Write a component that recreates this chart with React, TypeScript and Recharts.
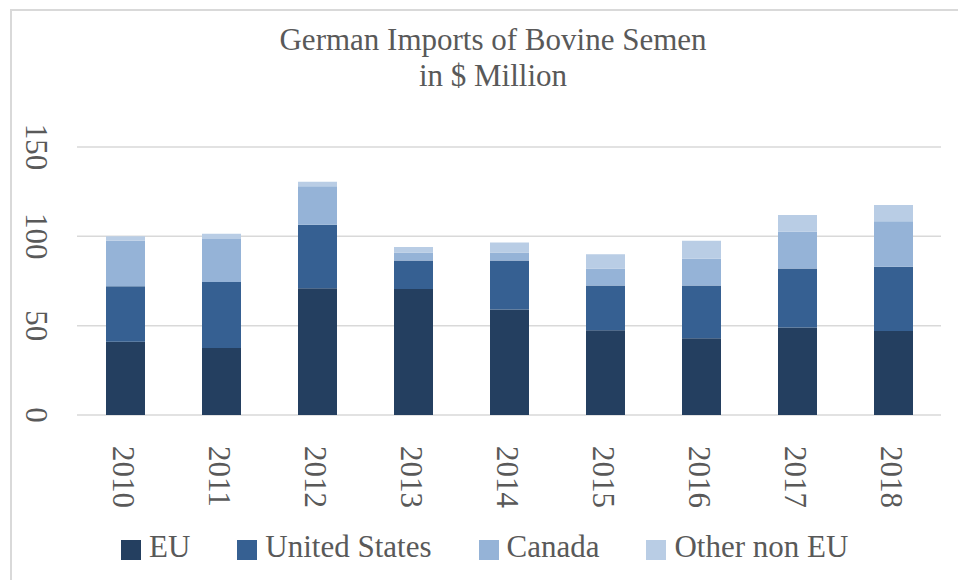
import React from 'react'
import { BarChart, Bar, XAxis, YAxis, CartesianGrid, Legend } from 'recharts'

const years = ['2010', '2011', '2012', '2013', '2014', '2015', '2016', '2017', '2018']
const eu = [41, 37.5, 71, 70.5, 59, 47.5, 43, 49, 47]
const unitedStates = [31, 37, 35.5, 16, 27.5, 25, 29.5, 33, 36]
const canada = [25.5, 24, 21.5, 4.5, 4.5, 9.5, 15, 20.5, 25.5]
const otherNonEu = [2.5, 3, 2.5, 3, 5.5, 8, 10, 9.5, 9]
const yTicks = [0, 50, 100, 150]

const data = years.map((year, i) => ({
  year,
  eu: eu[i],
  us: unitedStates[i],
  canada: canada[i],
  other: otherNonEu[i],
}))

const FONT = '"Liberation Serif", "Times New Roman", serif'
const TEXT = '#595959'
const LEGEND_H = 40
const XAXIS_H = 30

const series = [
  { key: 'eu', name: 'EU', color: '#243F60' },
  { key: 'us', name: 'United States', color: '#366092' },
  { key: 'canada', name: 'Canada', color: '#95B3D7' },
  { key: 'other', name: 'Other non EU', color: '#B9CDE5' },
]

const YTick = (props: any) => {
  const { y, payload } = props
  const x = 36
  return (
    <text
      x={x}
      y={y}
      transform={`rotate(90, ${x}, ${y})`}
      textAnchor="middle"
      dominantBaseline="central"
      fill={TEXT}
      fontSize={31}
      fontFamily={FONT}
    >
      {payload.value}
    </text>
  )
}

const XTick = (props: any) => {
  const { x, payload } = props
  const cx = x - 2
  const y = 446
  return (
    <text
      x={cx}
      y={y}
      transform={`rotate(90, ${cx}, ${y})`}
      textAnchor="start"
      dominantBaseline="central"
      fill={TEXT}
      fontSize={31}
      fontFamily={FONT}
    >
      {payload.value}
    </text>
  )
}

const renderLegend = () => (
  <div
    style={{
      display: 'flex',
      alignItems: 'center',
      height: LEGEND_H,
      fontFamily: FONT,
      fontSize: 31,
      color: TEXT,
    }}
  >
    {series.map((s) => (
      <div key={s.key} style={{ display: 'flex', alignItems: 'center', marginRight: 47 }}>
        <span style={{ width: 20, height: 20, background: s.color, marginRight: 8, marginTop: 5 }} />
        <span>{s.name}</span>
      </div>
    ))}
  </div>
)

export default function App() {
  return (
    <div style={{ position: 'absolute', left: 0, top: 0, width: 958, height: 580, background: '#fff' }}>
      <div
        style={{
          position: 'absolute',
          left: 10,
          top: 9,
          right: 0,
          bottom: 0,
          borderTop: '2px solid #d9d9d9',
          borderLeft: '2px solid #d9d9d9',
        }}
      />
      <div
        style={{
          position: 'absolute',
          left: 0,
          width: 986,
          top: 22,
          textAlign: 'center',
          fontFamily: FONT,
          fontSize: 31,
          lineHeight: '36px',
          color: TEXT,
        }}
      >
        German Imports of Bovine Semen
        <br />
        in $ Million
      </div>
      <div style={{ position: 'absolute', left: 0, top: 0 }}>
        <BarChart
          width={958}
          height={580}
          data={data}
          margin={{ top: 147, right: 17, bottom: 165 - XAXIS_H - LEGEND_H, left: 0 }}
          barSize={39}
        >
          <CartesianGrid vertical={false} stroke="#d9d9d9" strokeWidth={1.5} />
          <XAxis
            dataKey="year"
            height={XAXIS_H}
            axisLine={false}
            tickLine={false}
            tick={<XTick />}
            interval={0}
          />
          <YAxis
            width={77}
            domain={[0, 150]}
            ticks={yTicks}
            axisLine={false}
            tickLine={false}
            tick={<YTick />}
          />
          {series.map((s) => (
            <Bar
              key={s.key}
              dataKey={s.key}
              name={s.name}
              stackId="a"
              fill={s.color}
              isAnimationActive={false}
            />
          ))}
          <Legend
            content={renderLegend}
            wrapperStyle={{ position: 'absolute', left: 121, top: 527, width: 820, height: LEGEND_H }}
          />
        </BarChart>
      </div>
    </div>
  )
}
